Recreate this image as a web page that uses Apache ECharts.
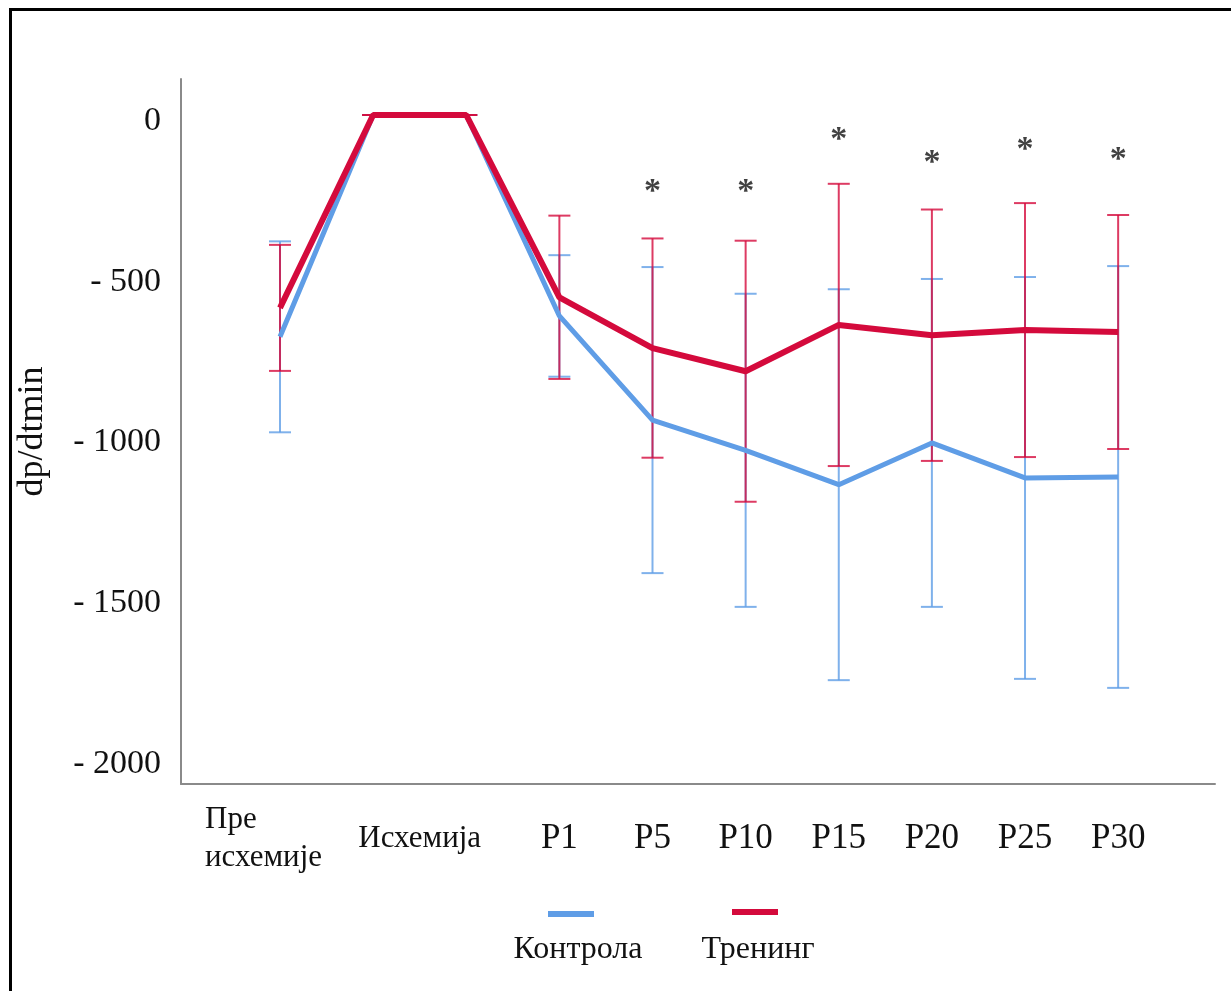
<!DOCTYPE html>
<html>
<head>
<meta charset="utf-8">
<title>dp/dtmin</title>
<script src="https://cdn.jsdelivr.net/npm/echarts@6/dist/echarts.min.js"></script>
<style>
  html, body { margin: 0; padding: 0; background: #fff; }
  #chart { width: 1231px; height: 991px; }
</style>
</head>
<body>
<div id="chart"></div>
<script>
// Time points (x index): before ischemia, ischemia start/end, reperfusion minutes
const pointIndex = [0, 1, 2, 3, 4, 5, 6, 7, 8, 9];

// Axis labels and where they sit on the x scale
const xLabelText = ['Пре\nисхемије', 'Исхемија', 'P1', 'P5', 'P10', 'P15', 'P20', 'P25', 'P30'];
const xLabelPos  = [0, 1.5, 3, 4, 5, 6, 7, 8, 9];

// y tick labels
const yTicks = [0, -500, -1000, -1500, -2000];

// Контрола: mean and SD
const controlMean = [-690, 0, 0, -625, -949, -1043, -1150, -1020, -1129, -1126];
const controlSD   = [297, 0, 0, 189, 476, 487, 608, 510, 625, 656];

// Тренинг: mean and SD
const trainingMean = [-600, 0, 0, -567, -725, -797, -653, -685, -669, -675];
const trainingSD   = [196, 0, 0, 254, 341, 406, 439, 391, 395, 364];

// Significance marks (* above the time point)
const starIndex = [4, 5, 6, 7, 8, 9];
const starLevel = [-240, -240, -77, -150, -110, -140];

const BLUE = '#5f9de6';
const RED = '#d40a3c';
const FONT = '"Liberation Serif", "Times New Roman", serif';

const chart = echarts.init(document.getElementById('chart'), null, { renderer: 'canvas' });

function errorBarSeries(name, mean, sd, color) {
  return {
    name: name,
    type: 'custom',
    z: 2,
    data: pointIndex.map((x, i) => [x, mean[i] - sd[i], mean[i] + sd[i]]),
    renderItem: function (params, api) {
      const x = api.value(0);
      const lo = api.coord([x, api.value(1)]);
      const hi = api.coord([x, api.value(2)]);
      const half = 11;
      const style = { stroke: color, lineWidth: 2, opacity: 0.8 };
      return {
        type: 'group',
        children: [
          { type: 'line', shape: { x1: lo[0], y1: lo[1], x2: hi[0], y2: hi[1] }, style: style },
          { type: 'line', shape: { x1: lo[0] - half, y1: lo[1], x2: lo[0] + half, y2: lo[1] }, style: style },
          { type: 'line', shape: { x1: hi[0] - half, y1: hi[1], x2: hi[0] + half, y2: hi[1] }, style: style }
        ]
      };
    }
  };
}

const option = {
  animation: false,
  backgroundColor: '#fff',
  grid: { left: 181, right: 16, top: 79, bottom: 207, containLabel: false },
  xAxis: {
    type: 'value',
    min: -1.063,
    max: 10.04,
    splitLine: { show: false },
    axisLine: { show: true, onZero: false, lineStyle: { color: '#8a8a8a', width: 2 } },
    axisTick: { show: false },
    axisLabel: {
      customValues: xLabelPos,
      formatter: function (v) {
        const k = xLabelPos.indexOf(v);
        if (k < 0) return '';
        if (k === 0) {
          return xLabelText[0].split('\n').map(s => '{q|' + s + '}').join('\n');
        }
        return k >= 2 ? '{p|' + xLabelText[k] + '}' : xLabelText[k];
      },
      margin: 55,
      verticalAlign: 'middle',
      lineHeight: 38,
      fontFamily: FONT,
      fontSize: 31,
      color: '#111',
      rich: {
        p: { fontFamily: FONT, fontSize: 35, color: '#111' },
        q: { fontFamily: FONT, fontSize: 31, color: '#111', width: 120, align: 'left', padding: [0, 30, 0, 0], lineHeight: 38 }
      }
    }
  },
  yAxis: {
    type: 'value',
    min: -2081,
    max: 112,
    name: 'dp/dtmin',
    nameLocation: 'middle',
    nameGap: 130,
    nameRotate: 90,
    nameTextStyle: { fontFamily: FONT, fontSize: 36, color: '#111' },
    splitLine: { show: false },
    axisLine: { show: true, onZero: false, lineStyle: { color: '#8a8a8a', width: 2 } },
    axisTick: { show: false },
    axisLabel: {
      customValues: yTicks,
      formatter: function (v) { return v === 0 ? '0' : '- ' + Math.abs(v); },
      margin: 20,
      verticalAlign: 'top',
      lineHeight: 12,
      fontFamily: FONT,
      fontSize: 34,
      color: '#111'
    }
  },
  series: [
    errorBarSeries('Контрола SD', controlMean, controlSD, BLUE),
    errorBarSeries('Тренинг SD', trainingMean, trainingSD, RED),
    {
      name: 'Контрола',
      type: 'line',
      z: 3,
      symbol: 'none',
      data: pointIndex.map((x, i) => [x, controlMean[i]]),
      lineStyle: { color: BLUE, width: 5 }
    },
    {
      name: 'Тренинг',
      type: 'line',
      z: 4,
      symbol: 'none',
      data: pointIndex.map((x, i) => [x, trainingMean[i]]),
      lineStyle: { color: RED, width: 6 }
    },
    {
      name: 'significance',
      type: 'scatter',
      z: 5,
      symbolSize: 0,
      data: starIndex.map((x, i) => [x, starLevel[i]]),
      label: {
        show: true,
        position: 'inside',
        formatter: '*',
        fontFamily: FONT,
        fontWeight: 'bold',
        fontSize: 34,
        color: '#111'
      }
    }
  ],
  graphic: [
    // outer frame
    { type: 'rect', silent: true, shape: { x: 10.5, y: 9.5, width: 1300, height: 1100 },
      style: { fill: 'none', stroke: '#000', lineWidth: 3 } },
    // legend
    { type: 'rect', shape: { x: 548, y: 911, width: 46, height: 6 }, style: { fill: BLUE } },
    { type: 'text', x: 578, y: 950, style: { text: 'Контрола', font: '32px ' + FONT, fill: '#111', align: 'center', verticalAlign: 'middle' } },
    { type: 'rect', shape: { x: 732, y: 909, width: 46, height: 6 }, style: { fill: RED } },
    { type: 'text', x: 758, y: 950, style: { text: 'Тренинг', font: '32px ' + FONT, fill: '#111', align: 'center', verticalAlign: 'middle' } }
  ]
};

chart.setOption(option);
</script>
</body>
</html>
